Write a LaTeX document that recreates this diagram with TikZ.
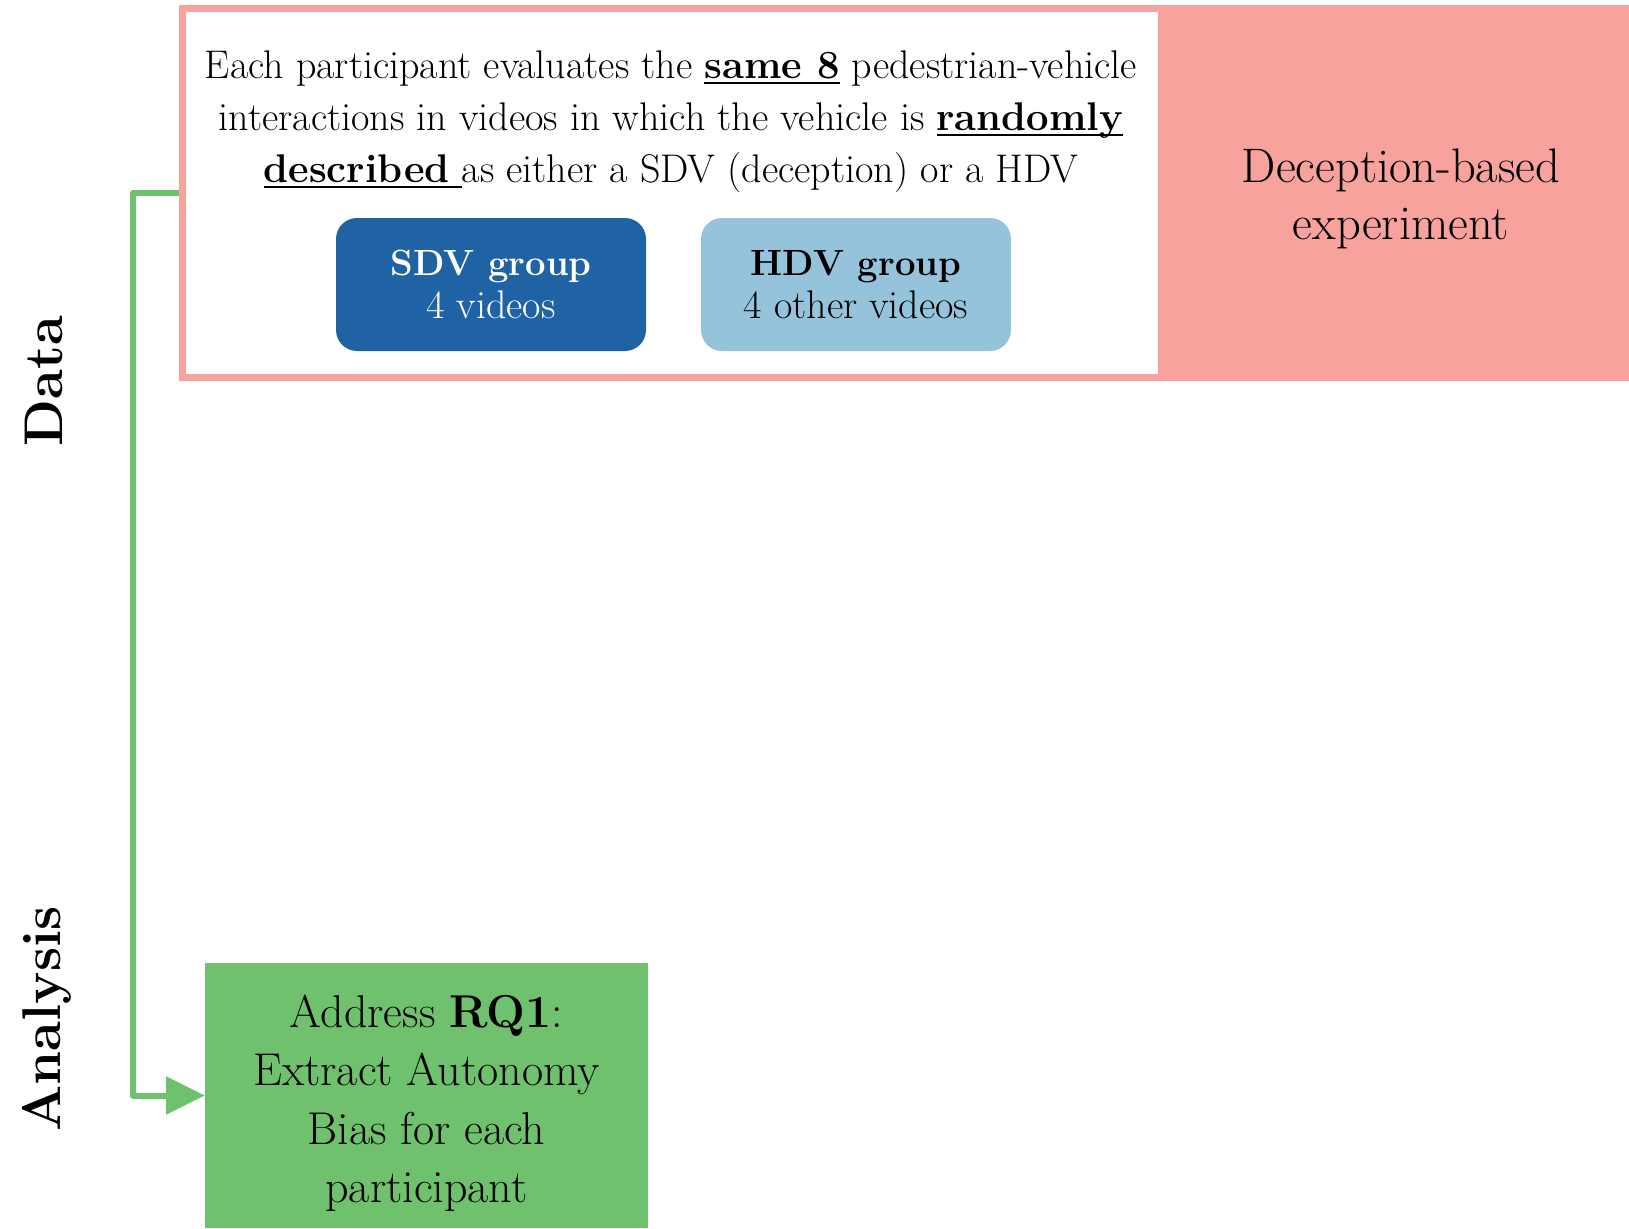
\documentclass[tikz,border=0pt]{standalone}
\usetikzlibrary{arrows.meta}
\definecolor{expink}{HTML}{F7A29D}
\definecolor{rqgreen}{HTML}{70C16E}
\definecolor{sdvblue}{HTML}{1F63A5}
\definecolor{hdvblue}{HTML}{96C3DC}
% heavy underline used for the emphasised words
\newcommand\thickul[1]{\setbox0\hbox{#1}\rlap{\rule[-5.5pt]{\wd0}{2.8pt}}\box0\relax}
\newcommand\grouptitle[1]{{\fontsize{36.5}{42}\selectfont\bfseries #1}}
\begin{document}
\begin{tikzpicture}[x=1pt,y=-1pt,
  every node/.style={inner sep=0pt, outer sep=0pt},
  groupbox/.style={rounded corners=21pt, minimum width=310pt, minimum height=133pt,
    align=center, font=\fontsize{40}{43}\selectfont},
  sidelabel/.style={rotate=90, font=\fontsize{54.5}{60}\selectfont\bfseries},
  flow/.style={rqgreen, line width=6pt, line join=round,
    -{Triangle[length=39pt,width=37pt]}}]
\useasboundingbox (0,0) rectangle (1629,1228);

% experiment frame and its coloured title panel
\node[draw=expink, line width=7pt, fill=white, minimum width=1480pt, minimum height=368pt] (exp) at (922,193) {};
\node[fill=expink, minimum width=480pt, minimum height=376pt] (lab) at (1398,193) {};
\node[align=center, font=\fontsize{48.5}{57}\selectfont] (labtxt) at (1401,199) {Deception-based\\experiment};

\node[align=center, font=\fontsize{40}{52}\selectfont] (desc) at (671,122)
  {Each participant evaluates the \thickul{\textbf{same 8}} pedestrian-vehicle\\
   interactions in videos in which the vehicle is \thickul{\textbf{randomly}}\\
   \thickul{\textbf{described}\ }as either a SDV (deception) or a HDV};

\node[groupbox, fill=sdvblue, text=white] (sdv) at (491,284.5) {\grouptitle{SDV group}\\4 videos};
\node[groupbox, fill=hdvblue] (hdv) at (856,284.5) {\grouptitle{HDV group}\\4 other videos};

% analysis step
\node[fill=rqgreen, minimum width=443pt, minimum height=265pt] (rq) at (426.5,1095.5) {};
\node[align=center, font=\fontsize{46}{58.5}\selectfont] (rqtxt) at (426.5,1103)
  {Address \textbf{RQ1}:\\Extract Autonomy\\Bias for each\\participant};

% row labels
\node[sidelabel] (data) at (44,381) {Data};
\node[sidelabel] (ana) at (47,1019) {Analysis};

\draw[flow] ([xshift=-3.5pt]exp.west) -- ++(-45.5,0) |- (rq.west);
\end{tikzpicture}
\end{document}
